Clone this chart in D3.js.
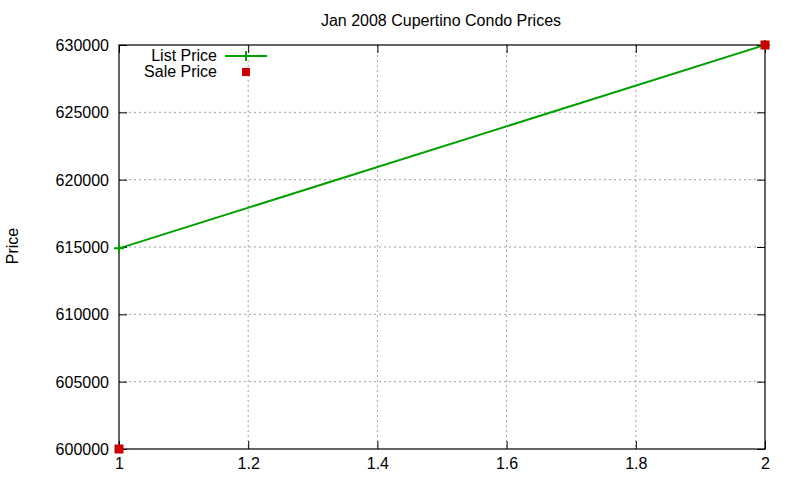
<!DOCTYPE html>
<html><head><meta charset="utf-8">
<script src="https://cdn.jsdelivr.net/npm/d3@7"></script>
<style>body{margin:0;background:#fff}svg{display:block}text{font-family:"Liberation Sans",Arial,sans-serif}</style>
</head><body><svg id="c" width="800" height="480"></svg>
<script>
const xValues = [1, 2];
const listPrice = [614900, 630000];
const salePrice = [600000, 630000];
const xTicks = [1, 1.2, 1.4, 1.6, 1.8, 2];
const yTicks = [600000, 605000, 610000, 615000, 620000, 625000, 630000];
const titleText = "Jan 2008 Cupertino Condo Prices";
const yLabel = "Price";
const seriesNames = ["List Price", "Sale Price"];

const svg = d3.select("#c");
const L = 119, R = 765, T = 45, B = 449;
const x = d3.scaleLinear().domain([1, 2]).range([L, R]);
const y = d3.scaleLinear().domain([600000, 630000]).range([B, T]);
const fs = 16;

// grid
const g = svg.append("g");
g.selectAll(".gx").data(xTicks.slice(1, -1)).enter().append("line")
  .attr("x1", d => x(d)).attr("x2", d => x(d)).attr("y1", T).attr("y2", B)
  .attr("stroke", "#a0a0a0").attr("stroke-width", 1).attr("stroke-dasharray", "2,3");
g.selectAll(".gy").data(yTicks.slice(1, -1)).enter().append("line")
  .attr("y1", d => y(d)).attr("y2", d => y(d)).attr("x1", L).attr("x2", R)
  .attr("stroke", "#a0a0a0").attr("stroke-width", 1).attr("stroke-dasharray", "2,3");

// axes
const ax = svg.append("g").attr("transform", `translate(0,${B})`)
  .call(d3.axisBottom(x).tickValues(xTicks).tickSize(-8).tickSizeOuter(0).tickFormat(d3.format("")));
const axT = svg.append("g").attr("transform", `translate(0,${T})`)
  .call(d3.axisTop(x).tickValues(xTicks).tickSize(-8).tickSizeOuter(0).tickFormat(""));
const ay = svg.append("g").attr("transform", `translate(${L},0)`)
  .call(d3.axisLeft(y).tickValues(yTicks).tickSize(-8).tickSizeOuter(0).tickFormat(d3.format("d")));
const ayR = svg.append("g").attr("transform", `translate(${R},0)`)
  .call(d3.axisRight(y).tickValues(yTicks).tickSize(-8).tickSizeOuter(0).tickFormat(""));
[ax, axT, ay, ayR].forEach(a => { a.select(".domain").remove(); a.selectAll("line").attr("stroke", "#000"); });
ax.selectAll("text").attr("font-size", fs).attr("fill", "#000").attr("dy", "1.05em").attr("y", 3);
ay.selectAll("text").attr("font-size", fs).attr("fill", "#000").attr("x", -10).attr("dy", "0.35em");

svg.append("rect").attr("x", L).attr("y", T).attr("width", R - L).attr("height", B - T)
  .attr("fill", "none").attr("stroke", "#000").attr("stroke-width", 1.2);

// title & label
svg.append("text").attr("x", 441).attr("y", 26).attr("text-anchor", "middle").attr("font-size", fs).text(titleText);
svg.append("text").attr("transform", "translate(18,246) rotate(-90)").attr("text-anchor", "middle").attr("font-size", fs).text(yLabel);

// series
const green = "#00a000", red = "#cc0000";
const listData = xValues.map((v, i) => [v, listPrice[i]]);
const saleData = xValues.map((v, i) => [v, salePrice[i]]);
svg.append("path").datum(listData).attr("d", d3.line().x(d => x(d[0])).y(d => y(d[1])))
  .attr("fill", "none").attr("stroke", green).attr("stroke-width", 2);
function cross(sel, cx, cy) {
  sel.append("path").attr("d", `M${cx-5},${cy}H${cx+5}M${cx},${cy-5}V${cy+5}`).attr("stroke", green).attr("stroke-width", 2);
}
listData.forEach(d => cross(svg, x(d[0]), y(d[1])));
svg.selectAll(".sq").data(saleData).enter().append("rect")
  .attr("x", d => x(d[0]) - 4.5).attr("y", d => y(d[1]) - 4.5).attr("width", 9).attr("height", 9).attr("fill", red);

// legend
svg.append("text").attr("x", 217).attr("y", 61).attr("text-anchor", "end").attr("font-size", fs).text(seriesNames[0]);
svg.append("text").attr("x", 217).attr("y", 77).attr("text-anchor", "end").attr("font-size", fs).text(seriesNames[1]);
svg.append("line").attr("x1", 225).attr("x2", 267).attr("y1", 56).attr("y2", 56).attr("stroke", green).attr("stroke-width", 2);
cross(svg, 246, 56);
svg.append("rect").attr("x", 242).attr("y", 68).attr("width", 8).attr("height", 8).attr("fill", red);
</script></body></html>
